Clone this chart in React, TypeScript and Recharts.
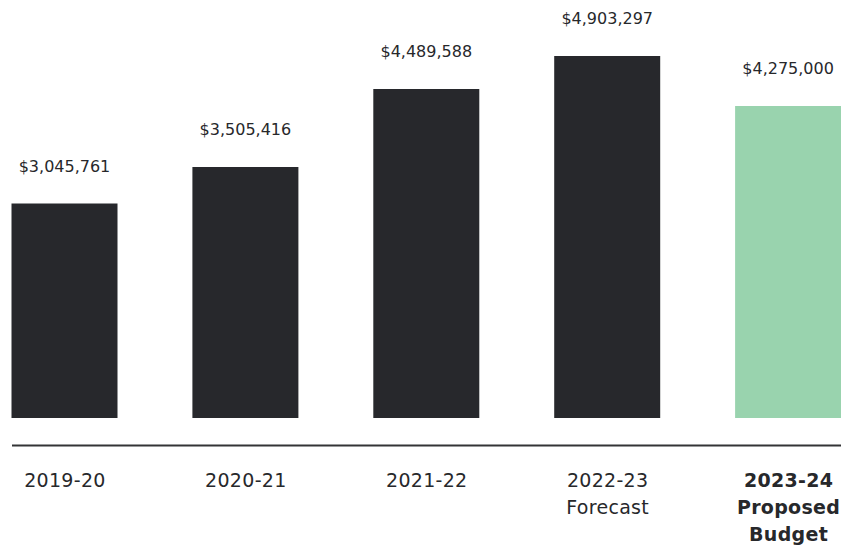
import { BarChart, Bar, XAxis, YAxis, Cell, LabelList, ReferenceLine } from "recharts";

const years = ["2019-20", "2020-21", "2021-22", "2022-23", "2023-24"];
const subLabels = [[], [], [], ["Forecast"], ["Proposed", "Budget"]];
const spending = [3045761, 3505416, 4489588, 4903297, 4275000];
const proposedIndex = 4;

const data = years.map((year, i) => ({ year, amount: spending[i] }));

const fontFamily = "'DejaVu Sans', sans-serif";
const ink = "#27282b";

const money = (v: number) => "$" + v.toLocaleString("en-US");

function YearTick(props: any) {
  const { x, y, payload, index } = props;
  const i = index ?? years.indexOf(payload.value);
  const lines = [payload.value, ...(subLabels[i] || [])];
  const bold = i === proposedIndex;
  return (
    <text
      x={x}
      y={y}
      textAnchor="middle"
      fill={ink}
      fontFamily={fontFamily}
      fontSize={19}
      fontWeight={bold ? 700 : 400}
      letterSpacing={0.3}
    >
      {lines.map((line, k) => (
        <tspan key={k} x={x} dy={k === 0 ? 69 : 27}>
          {line}
        </tspan>
      ))}
    </text>
  );
}

export default function App() {
  return (
    <div style={{ position: "absolute", left: 0, top: 0, background: "#fff" }}>
      <BarChart
        width={841}
        height={546}
        data={data}
        margin={{ top: 0, right: 0, left: 12, bottom: 0 }}
      >
        <YAxis hide domain={[346000, 5610000]} allowDataOverflow />
        <XAxis
          dataKey="year"
          height={128}
          axisLine={false}
          tickLine={false}
          tickSize={0}
          tickMargin={0}
          interval={0}
          padding={{ left: -37.5, right: -38 }}
          tick={<YearTick />}
        />
        <ReferenceLine y={0} ifOverflow="visible" stroke="#333436" strokeWidth={2} />
        <Bar dataKey="amount" barSize={106} isAnimationActive={false}>
          {data.map((d, i) => (
            <Cell key={d.year} fill={i === proposedIndex ? "#99d3ae" : "#27282c"} />
          ))}
          <LabelList
            dataKey="amount"
            position="top"
            offset={32}
            formatter={(v: any) => money(Number(v))}
            fill={ink}
            fontFamily={fontFamily}
            fontSize={16}
          />
        </Bar>
      </BarChart>
    </div>
  );
}
